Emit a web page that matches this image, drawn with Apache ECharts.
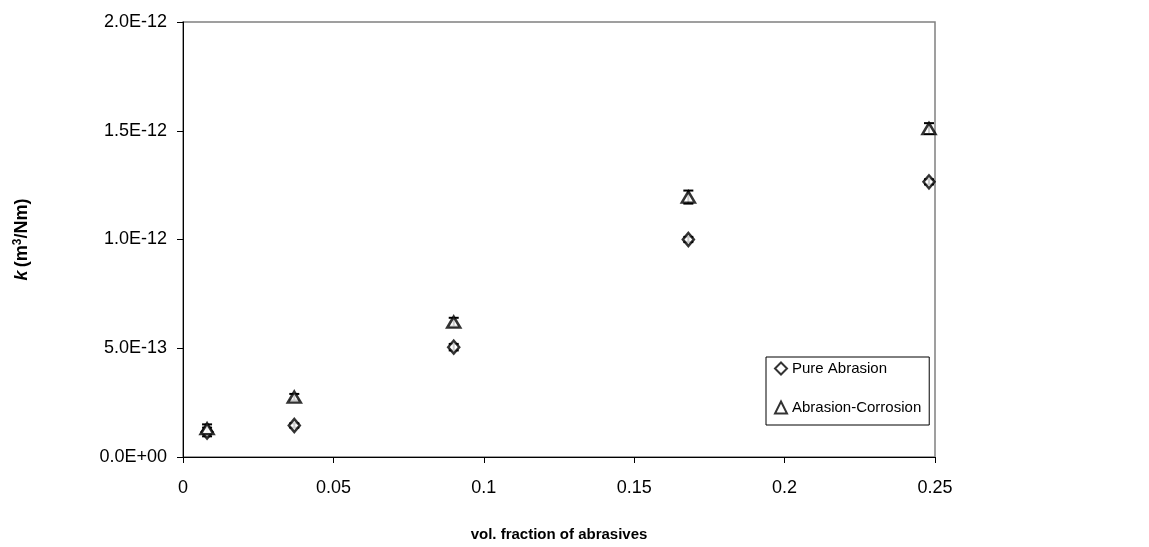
<!DOCTYPE html>
<html>
<head>
<meta charset="utf-8">
<script src="https://cdn.jsdelivr.net/npm/echarts@6/dist/echarts.min.js"></script>
<style>
  html, body { margin: 0; padding: 0; background: #fff; }
  #chart { width: 1149px; height: 547px; }
</style>
</head>
<body>
<div id="chart"></div>
<script>
// volume fraction of abrasives (x)
var volFraction = [0.008, 0.037, 0.09, 0.168, 0.248];
// wear coefficient k (m3/Nm)
var pureAbrasion = [1.15e-13, 1.45e-13, 5.05e-13, 1.0e-12, 1.265e-12];
var abrasionCorrosion = [1.3e-13, 2.75e-13, 6.2e-13, 1.195e-12, 1.51e-12];
// error (+/-) for each point
var pureErr = [0.2e-13, 0.1e-13, 0.15e-13, 0.12e-13, 0.12e-13];
var corrErr = [0.2e-13, 0.15e-13, 0.2e-13, 0.3e-13, 0.25e-13];
var yTicks = ["0.0E+00", "5.0E-13", "1.0E-12", "1.5E-12", "2.0E-12"];

function pts(ys) {
  return volFraction.map(function (x, i) { return [x, ys[i]]; });
}
function errs(ys, e) {
  return volFraction.map(function (x, i) { return [x, ys[i] - e[i], ys[i] + e[i]]; });
}
function errorBar(params, api) {
  var x = api.value(0);
  var lo = api.coord([x, api.value(1)]);
  var hi = api.coord([x, api.value(2)]);
  var w = 5;
  var st = { stroke: "#000", lineWidth: 2 };
  return {
    type: "group",
    children: [
      { type: "line", shape: { x1: lo[0], y1: lo[1], x2: hi[0], y2: hi[1] }, style: st },
      { type: "line", shape: { x1: lo[0] - w, y1: lo[1], x2: lo[0] + w, y2: lo[1] }, style: st },
      { type: "line", shape: { x1: hi[0] - w, y1: hi[1], x2: hi[0] + w, y2: hi[1] }, style: st }
    ]
  };
}

var myChart = echarts.init(document.getElementById("chart"));
var font = "Liberation Sans, Arial, sans-serif";

var option = {
  animation: false,
  textStyle: { fontFamily: font },
  grid: {
    left: 183, right: 214, top: 22, bottom: 82,
    show: true, borderColor: "#808080", borderWidth: 1.5
  },
  legend: {
    orient: "vertical",
    left: 766, top: 357,
    padding: [4, 8, 10, 8],
    itemGap: 24,
    itemWidth: 12, itemHeight: 12,
    backgroundColor: "#fff",
    borderColor: "#000", borderWidth: 1,
    textStyle: { fontSize: 15, color: "#000", fontFamily: font },
    data: ["Pure Abrasion", "Abrasion-Corrosion"]
  },
  xAxis: {
    type: "value",
    min: 0, max: 0.25, interval: 0.05,
    name: "vol. fraction of abrasives",
    nameLocation: "middle",
    nameGap: 70,
    nameTextStyle: { fontSize: 15, fontWeight: "bold", color: "#000" },
    axisLine: { show: true, onZero: false, lineStyle: { color: "#000", width: 1 } },
    axisTick: { show: true, length: 6, lineStyle: { color: "#000" } },
    axisLabel: { fontSize: 18, color: "#000", margin: 22 },
    splitLine: { show: false }
  },
  yAxis: {
    type: "value",
    min: 0, max: 2e-12, interval: 5e-13,
    name: "{k|k} {n|(m}{s|3}{n|/Nm)}",
    nameLocation: "middle",
    nameGap: 150,
    nameRotate: 90,
    nameTextStyle: {
      color: "#000",
      rich: {
        k: { fontSize: 18, fontWeight: "bold", fontStyle: "italic", fontFamily: font },
        n: { fontSize: 18, fontWeight: "bold", fontFamily: font },
        s: { fontSize: 12, fontWeight: "bold", fontFamily: font, verticalAlign: "top", padding: [0, 0, 9, 0] }
      }
    },
    axisLine: { show: true, lineStyle: { color: "#000", width: 1 } },
    axisTick: { show: true, length: 6, lineStyle: { color: "#000" } },
    axisLabel: {
      fontSize: 18, color: "#000", margin: 16,
      formatter: function (v) { return yTicks[Math.round(v / 5e-13)]; }
    },
    splitLine: { show: false }
  },
  series: [
    {
      type: "custom", renderItem: errorBar, data: errs(pureAbrasion, pureErr),
      encode: { x: 0, y: [1, 2] }, silent: true, z: 1
    },
    {
      type: "custom", renderItem: errorBar, data: errs(abrasionCorrosion, corrErr),
      encode: { x: 0, y: [1, 2] }, silent: true, z: 1
    },
    {
      name: "Pure Abrasion",
      type: "scatter",
      symbol: "diamond",
      symbolSize: [11, 13],
      data: pts(pureAbrasion),
      itemStyle: { color: "#fff", borderColor: "#000", borderWidth: 2.5 },
      z: 3
    },
    {
      name: "Abrasion-Corrosion",
      type: "scatter",
      symbol: "triangle",
      symbolSize: [13, 11],
      data: pts(abrasionCorrosion),
      itemStyle: { color: "#fff", borderColor: "#000", borderWidth: 2.5 },
      z: 3
    }
  ]
};

myChart.setOption(option);
</script>
</body>
</html>
